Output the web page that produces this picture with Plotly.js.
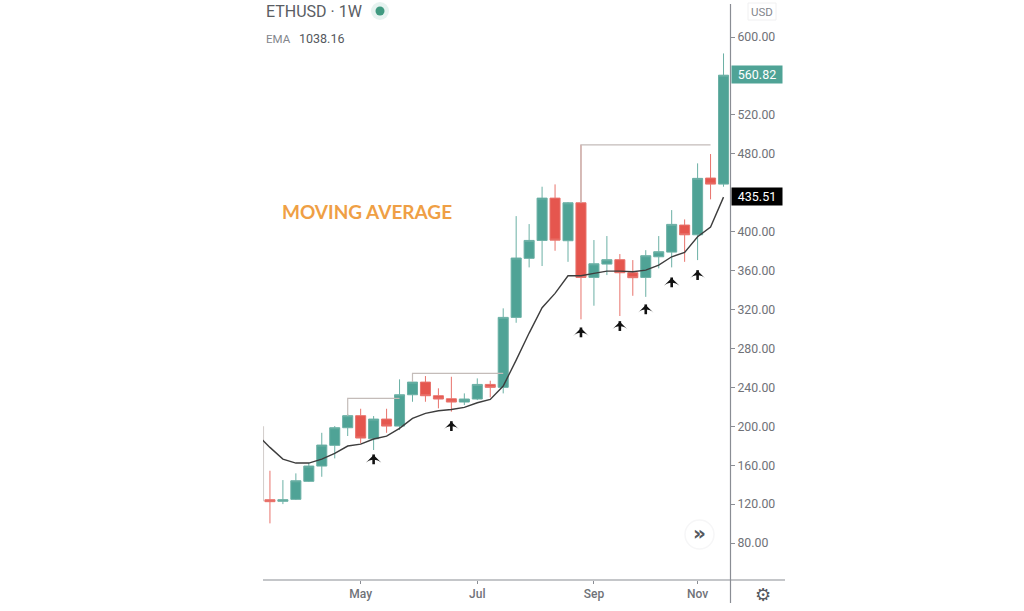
<!DOCTYPE html>
<html>
<head>
<meta charset="utf-8">
<script src="https://cdn.plot.ly/plotly-3.0.1.min.js"></script>
<style>html,body{margin:0;padding:0;background:#fff}#chart{width:1024px;height:611px}</style>
</head>
<body>
<div id="chart"></div>
<script>
const weeks = ["2020-03-16","2020-03-23","2020-03-30","2020-04-06","2020-04-13","2020-04-20","2020-04-27","2020-05-04","2020-05-11","2020-05-18","2020-05-25","2020-06-01","2020-06-08","2020-06-15","2020-06-22","2020-06-29","2020-07-06","2020-07-13","2020-07-20","2020-07-27","2020-08-03","2020-08-10","2020-08-17","2020-08-24","2020-08-31","2020-09-07","2020-09-14","2020-09-21","2020-09-28","2020-10-05","2020-10-12","2020-10-19","2020-10-26","2020-11-02","2020-11-09","2020-11-16"];
const opens  = [124.5,122.9,124.9,143.4,159.1,180.4,198.5,210.9,187.2,207.4,200.2,232.4,245.4,231.4,228.3,224.9,228,243,240,311.9,372.6,391,434.5,390.7,429.7,353,366.7,371.2,357.8,353,374.2,379,406.8,396.8,455.1,448.9];
const highs  = [154.3,144.7,151.6,162.5,193.3,200.2,212.6,218,210.5,218,248.2,250,251.6,239,250.9,233.8,249.2,246.8,321.2,416,407.8,446.2,448.6,430.5,489.3,391.4,395.5,377,370.8,381,395.5,422.2,412.6,470.2,479.8,583.2];
const lows   = [100.2,120,124.2,142.7,148.1,167,190,182.4,175.6,193.3,196.1,225.2,225.2,218.4,215,221.8,226.9,229.7,233.8,306.4,363.3,364.7,380.4,369,309.9,323.9,355.4,313.3,334.1,333,362.3,363.3,369,370.8,433.2,446.2];
const closes = [122.5,124.5,144,159.1,180.7,198.5,210.9,187.9,207.4,200.2,232.4,245.4,231.4,228,224.9,228,243,240,311.9,372.9,391,434.5,391.3,429.7,353,367,371.2,357.8,352.7,375.3,379.4,407.5,396.8,454.8,448.9,560.82];
const emaDates = ["2020-03-09"].concat(weeks);
const emaValues = [191.7,178.3,166.3,162.2,162.2,166.3,172.1,179.7,181.7,186.9,189.9,197.9,208.1,213.3,216,217.3,219.4,224.2,227.6,241.3,268,295.8,321.8,336.6,354.7,354.7,357.2,359.5,359.5,358.8,360.5,365.7,374.2,378.7,394.8,404.7,435.51];
const stepDates = ["2020-04-27","2020-04-27","2020-05-25",null,"2020-06-01","2020-06-01","2020-07-20",null,"2020-08-31","2020-08-31","2020-11-09"];
const stepPrices = [210.9,228.7,228.7,null,245.4,254.4,254.4,null,429.7,489.3,489.3];
const startLineDates = ["2020-03-12 12:00","2020-03-12 12:00"];
const startLinePrices = [123,200];
const arrowDates = ["2020-05-11","2020-06-22","2020-08-31","2020-09-21","2020-10-05","2020-10-19","2020-11-02"];
const arrowTips = [170.4,204.6,300.9,307.4,324.6,352.3,359.8];
const arrowMids = [166,200.2,296.5,303,320.2,347.9,355.4];
const monthTicks = ["2020-05-04","2020-07-06","2020-09-07","2020-11-02"];
const monthLabels = ["May","Jul","Sep","Nov"];
const priceTicks = [80,120,160,200,240,280,320,360,400,480,520,600];
const lastClose = 560.82;
const lastEma = 435.51;

const TEAL="#4fa396", RED="#e5564e", AXIS="#8a8d94", TXT="#6f7278";
const L=263,T=4,W=467,H=576;
const px=v=>(v-L)/W, py=v=>(T+H-v)/H;

const traces=[
 {type:"candlestick",x:weeks,open:opens,high:highs,low:lows,close:closes,whiskerwidth:0,
  increasing:{line:{color:"#6bb0a5",width:1},fillcolor:TEAL},
  decreasing:{line:{color:"#e8736c",width:1},fillcolor:RED},showlegend:false,hoverinfo:"skip"},
 {type:"scatter",mode:"lines",x:stepDates,y:stepPrices,connectgaps:false,
  line:{color:"#c4bcb9",width:1.2},showlegend:false,hoverinfo:"skip"},
 {type:"scatter",mode:"lines",x:startLineDates,y:startLinePrices,line:{color:"#d4cfcd",width:1.2},showlegend:false,hoverinfo:"skip"},
 {type:"scatter",mode:"lines",x:emaDates,y:emaValues,line:{color:"#3d3d3d",width:1.4},showlegend:false,hoverinfo:"skip"},
 {type:"scatter",mode:"markers",x:arrowDates,y:arrowMids,marker:{symbol:"line-ns",size:7,color:"#111",line:{color:"#111",width:2.6}},showlegend:false,hoverinfo:"skip"},
 {type:"scatter",mode:"markers",x:arrowDates,y:arrowTips,marker:{symbol:"arrow-wide",size:11,color:"#111",line:{width:0}},showlegend:false,hoverinfo:"skip"}
];

const annotations=[
 {xref:"paper",yref:"paper",x:px(264),y:py(11),xanchor:"left",yanchor:"middle",showarrow:false,text:"ETHUSD · 1W",font:{family:"Roboto",size:16,color:"#5a5d63"}},
 {xref:"paper",yref:"paper",x:px(264),y:py(39),xanchor:"left",yanchor:"middle",showarrow:false,text:"EMA",font:{family:"Roboto",size:11.5,color:"#83868c"}},
 {xref:"paper",yref:"paper",x:px(297),y:py(39),xanchor:"left",yanchor:"middle",showarrow:false,text:"1038.16",font:{family:"Roboto",size:12.5,color:"#55585e"}},
 {xref:"paper",yref:"paper",x:px(279.5),y:py(211.5),xanchor:"left",yanchor:"middle",showarrow:false,text:"<b>MOVING AVERAGE</b>",font:{family:"Lato",size:19,color:"#ef9f45"}},
 {xref:"paper",yref:"paper",x:px(762),y:py(11.5),xanchor:"center",yanchor:"middle",showarrow:false,text:"USD",font:{family:"Roboto",size:11.5,color:"#83868c"}},
 {xref:"paper",yref:"y",x:px(731),y:lastClose+0.8,xanchor:"left",yanchor:"middle",showarrow:false,text:lastClose.toFixed(2),width:50,height:17,align:"center",bgcolor:TEAL,borderpad:0,font:{family:"Roboto",size:12.5,color:"#fff"}},
 {xref:"paper",yref:"y",x:px(731),y:lastEma+0.8,xanchor:"left",yanchor:"middle",showarrow:false,text:lastEma.toFixed(2),width:50,height:17,align:"center",bgcolor:"#000",borderpad:0,font:{family:"Roboto",size:12.5,color:"#fff"}},
 {xref:"paper",yref:"paper",x:px(699.5),y:py(533),xanchor:"center",yanchor:"middle",showarrow:false,text:"<b>»</b>",font:{family:"DejaVu Sans",size:20,color:"#55585e"}},
 {xref:"paper",yref:"paper",x:px(762.5),y:py(594),xanchor:"center",yanchor:"middle",showarrow:false,text:"⚙",font:{family:"DejaVu Sans",size:18,color:"#55585e"}}
];

const paperLine=(x0,y0,x1,y1,c,w)=>({type:"line",xref:"paper",yref:"paper",x0:px(x0),y0:py(y0),x1:px(x1),y1:py(y1),line:{color:c,width:w},layer:"above"});
const shapes=[
 paperLine(730.5,4,730.5,603,AXIS,1.2),
 paperLine(263,580,785,580,AXIS,1.2),
 {type:"circle",xref:"paper",yref:"paper",x0:px(371),y0:py(2),x1:px(389),y1:py(20),fillcolor:"#e6f3f0",line:{width:0},layer:"below"},
 {type:"circle",xref:"paper",yref:"paper",x0:px(375.5),y0:py(6.5),x1:px(384.5),y1:py(15.5),fillcolor:"#3f9a80",line:{width:0},layer:"above"},
 {type:"circle",xref:"paper",yref:"paper",x0:px(685),y0:py(520),x1:px(714),y1:py(549),fillcolor:"#fff",line:{color:"#f6f6f7",width:1.5},layer:"below"},
 {type:"rect",xref:"paper",yref:"paper",x0:px(748),y0:py(3),x1:px(776),y1:py(20),fillcolor:"#fff",line:{color:"#f0f0f1",width:1},layer:"below"}
];

const layout={
 width:1024,height:611,margin:{l:L,r:1024-L-W,t:T,b:611-T-H,pad:0},
 paper_bgcolor:"#fff",plot_bgcolor:"#fff",showlegend:false,
 boxgap:0.12,boxgroupgap:0.12,
 xaxis:{type:"date",range:["2020-03-12 06:00","2020-11-19 12:00"],rangeslider:{visible:false},showgrid:false,zeroline:false,showline:false,
  tickmode:"array",tickvals:monthTicks,ticktext:monthLabels,ticks:"outside",ticklen:3,tickcolor:AXIS,tickfont:{family:"Roboto",size:12,color:TXT,weight:500}},
 yaxis:{side:"right",range:[42,634],showgrid:false,zeroline:false,showline:false,tickmode:"array",tickvals:priceTicks,tickformat:".2f",
  ticks:"outside",ticklen:4,tickcolor:AXIS,tickfont:{family:"Roboto",size:12.3,color:TXT}},
 annotations,shapes
};
Plotly.newPlot("chart",traces,layout,{displayModeBar:false,staticPlot:true});
</script>
</body>
</html>
